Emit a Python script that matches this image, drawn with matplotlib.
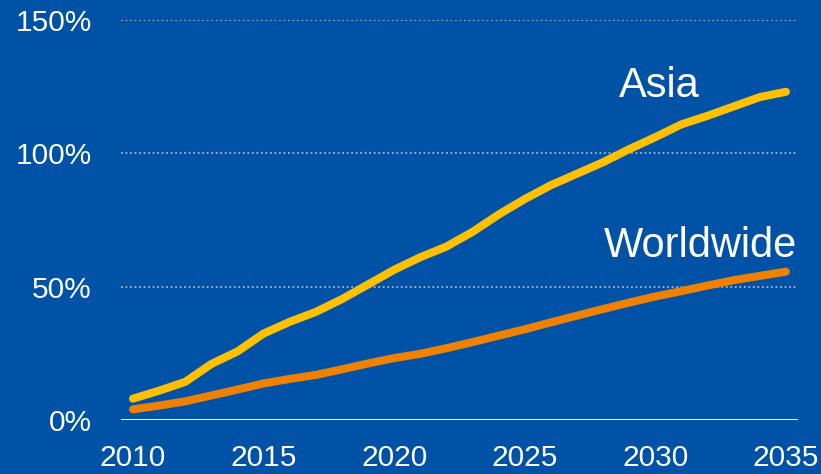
import matplotlib.pyplot as plt
from matplotlib.ticker import FuncFormatter

plt.rcParams['font.family'] = ['Liberation Sans', 'DejaVu Sans']

years = list(range(2010, 2036))
asia = [8.0, 11.0, 14.3, 21.0, 25.7, 32.4, 36.8, 40.5, 45.3, 50.8,
        56.3, 61.0, 65.0, 70.5, 77.0, 82.8, 88.0, 92.3, 96.6, 101.5,
        106.0, 110.8, 114.0, 117.5, 121.0, 123.0]
worldwide = [4.0, 5.4, 7.0, 9.2, 11.4, 13.7, 15.4, 16.9, 19.0, 21.2,
             23.2, 24.8, 26.9, 29.2, 31.6, 34.0, 36.6, 39.1, 41.6, 44.0,
             46.3, 48.3, 50.4, 52.4, 54.0, 55.6]
y_ticks = [0, 50, 100, 150]
x_ticks = [2010, 2015, 2020, 2025, 2030, 2035]

bg = '#0052A7'
fig = plt.figure(figsize=(8.21, 4.74), dpi=100, facecolor=bg)
ax = fig.add_axes([0.1474, 0.1139, 0.8242, 0.8445])
ax.set_facecolor(bg)

# dotted guides above zero, solid baseline at zero
for v in y_ticks[1:]:
    ax.axhline(v, color='#A9B4C6', lw=1.3, ls=(0, (1, 1.5)), zorder=1)
ax.axhline(0, color='white', lw=1.4, zorder=1)

ax.plot(years, asia, color='#FFC000', lw=5.8, solid_capstyle='round',
        solid_joinstyle='round', zorder=3, clip_on=False)
ax.plot(years, worldwide, color='#EE8200', lw=5.8, solid_capstyle='round',
        solid_joinstyle='round', zorder=3, clip_on=False)

ax.text(2030.14, 121.1, 'Asia', color='white', fontsize=30,
        ha='center', va='baseline')
ax.text(2031.71, 61.1, 'Worldwide', color='white', fontsize=30,
        ha='center', va='baseline')

ax.set_xlim(2009.54, 2035.45)
ax.set_ylim(0, 150)
ax.set_xticks(x_ticks)
ax.set_yticks(y_ticks)
ax.yaxis.set_major_formatter(FuncFormatter(lambda v, p: f'{v:.0f}%'))
ax.tick_params(colors='white', labelsize=21.5, length=0)
ax.tick_params(axis='y', pad=21)
ax.tick_params(axis='x', pad=17)
for s in ax.spines.values():
    s.set_visible(False)

fig.savefig('out.png', dpi=100, facecolor=bg)
